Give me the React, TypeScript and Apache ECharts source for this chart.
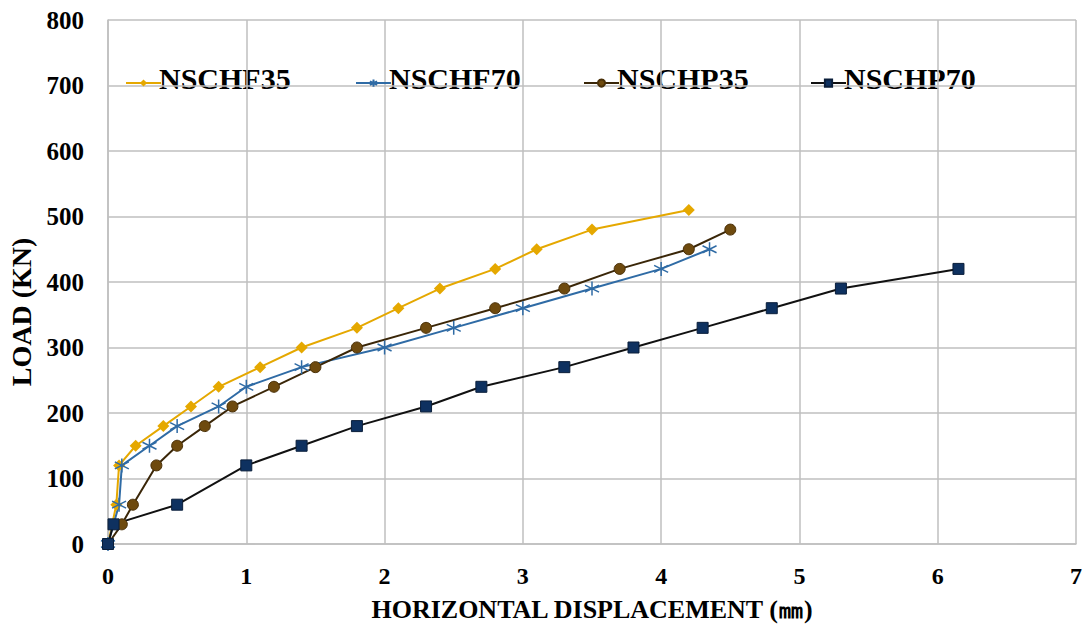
import React, { useEffect, useRef } from "react";
import * as echarts from "echarts";

const xTicks = [0, 1, 2, 3, 4, 5, 6, 7];
const yTicks = [0, 100, 200, 300, 400, 500, 600, 700, 800];

const seriesNames = ["NSCHF35", "NSCHF70", "NSCHP35", "NSCHP70"];

const f35X = [0, 0.06, 0.08, 0.2, 0.4, 0.6, 0.8, 1.1, 1.4, 1.8, 2.1, 2.4, 2.8, 3.1, 3.5, 4.2];
const f35Y = [0, 60, 120, 150, 180, 210, 240, 270, 300, 330, 360, 390, 420, 450, 480, 510];

const f70X = [0, 0.08, 0.1, 0.3, 0.5, 0.8, 1.0, 1.4, 2.0, 2.5, 3.0, 3.5, 4.0, 4.35];
const f70Y = [0, 60, 120, 150, 180, 210, 240, 270, 300, 330, 360, 390, 420, 450];

const p35X = [0, 0.1, 0.18, 0.35, 0.5, 0.7, 0.9, 1.2, 1.5, 1.8, 2.3, 2.8, 3.3, 3.7, 4.2, 4.5];
const p35Y = [0, 30, 60, 120, 150, 180, 210, 240, 270, 300, 330, 360, 390, 420, 450, 480];

const p70X = [0, 0.04, 0.5, 1.0, 1.4, 1.8, 2.3, 2.7, 3.3, 3.8, 4.3, 4.8, 5.3, 6.15];
const p70Y = [0, 30, 60, 120, 150, 180, 210, 240, 270, 300, 330, 360, 390, 420];

const pairs = (xs: number[], ys: number[]) => xs.map((x, i) => [x, ys[i]]);

const FONT = "Liberation Serif";
const STAR = "path://M5,0L5,10M0.7,2.5L9.3,7.5M0.7,7.5L9.3,2.5";

export default function App() {
  const ref = useRef<HTMLDivElement>(null);
  useEffect(() => {
    if (!ref.current) return;
    const chart = echarts.init(ref.current, undefined, { renderer: "svg" });
    const legendLefts = [120, 350, 578, 805];
    const legendMid = 78;
    chart.setOption({
      animation: false,
      backgroundColor: "#fff",
      textStyle: { fontFamily: FONT, fontWeight: "bold", color: "#000" },
      grid: { left: 108, right: 12, top: 20, bottom: 80, outerBoundsMode: "none", containLabel: false },
      legend: seriesNames.map((n, i) => ({
        data: [n],
        left: legendLefts[i],
        top: legendMid - 4.5,
        itemWidth: 35,
        itemHeight: 9,
        itemGap: 0,
        formatter: () => "",
        textStyle: { fontSize: 1 },
      })),
      graphic: seriesNames.map((n, i) => ({
        type: "text",
        x: legendLefts[i] + 39,
        y: legendMid,
        silent: true,
        style: {
          text: n,
          fontFamily: FONT,
          fontWeight: "bold",
          fontSize: 30,
          fill: "#000",
          align: "left",
          verticalAlign: "middle",
        },
      })),
      xAxis: {
        type: "value",
        min: 0,
        max: 7,
        interval: 1,
        name: "HORIZONTAL DISPLACEMENT (㎜)",
        nameLocation: "middle",
        nameGap: 52,
        nameTextStyle: { fontFamily: FONT, fontWeight: "bold", fontSize: 26, color: "#000" },
        axisLine: { show: true, onZero: false, lineStyle: { color: "#BFBFBF", width: 1.5 } },
        axisTick: { show: false },
        splitLine: { show: true, lineStyle: { color: "#BFBFBF", width: 1.5 } },
        axisLabel: { fontFamily: FONT, fontWeight: "bold", fontSize: 24, color: "#000", margin: 20, formatter: (v: number) => (xTicks.includes(v) ? String(v) : "") },
      },
      yAxis: {
        type: "value",
        min: 0,
        max: 800,
        interval: 100,
        name: "LOAD (KN)",
        nameLocation: "middle",
        nameGap: 72,
        nameTextStyle: { fontFamily: FONT, fontWeight: "bold", fontSize: 28, color: "#000", padding: [0, 60, 0, 0] },
        axisLine: { show: true, lineStyle: { color: "#BFBFBF", width: 1.5 } },
        axisTick: { show: false },
        splitLine: { show: true, lineStyle: { color: "#BFBFBF", width: 1.5 } },
        axisLabel: { fontFamily: FONT, fontWeight: "bold", fontSize: 25, color: "#000", margin: 24, formatter: (v: number) => (yTicks.includes(v) ? String(v) : "") },
      },
      series: [
        {
          name: seriesNames[0],
          type: "line",
          data: pairs(f35X, f35Y),
          symbol: "diamond",
          symbolSize: 12,
          lineStyle: { color: "#E5A800", width: 2 },
          itemStyle: { color: "#E5A800" },
        },
        {
          name: seriesNames[1],
          type: "line",
          data: pairs(f70X, f70Y),
          symbol: STAR,
          symbolSize: 14,
          lineStyle: { color: "#2F6BA5", width: 2 },
          itemStyle: { color: "#2F6BA5", borderColor: "#2F6BA5", borderWidth: 1.5 },
        },
        {
          name: seriesNames[2],
          type: "line",
          data: pairs(p35X, p35Y),
          symbol: "circle",
          symbolSize: 11,
          lineStyle: { color: "#3A2608", width: 2 },
          itemStyle: { color: "#6E4A0E", borderColor: "#4A3008", borderWidth: 1 },
        },
        {
          name: seriesNames[3],
          type: "line",
          data: pairs(p70X, p70Y),
          symbol: "rect",
          symbolSize: 11,
          lineStyle: { color: "#111111", width: 2 },
          itemStyle: { color: "#0E3160", borderColor: "#0A1E3A", borderWidth: 1 },
        },
      ],
    });
    return () => chart.dispose();
  }, []);
  return <div ref={ref} style={{ width: 1088, height: 624, position: "fixed", left: 0, top: 0 }} />;
}
